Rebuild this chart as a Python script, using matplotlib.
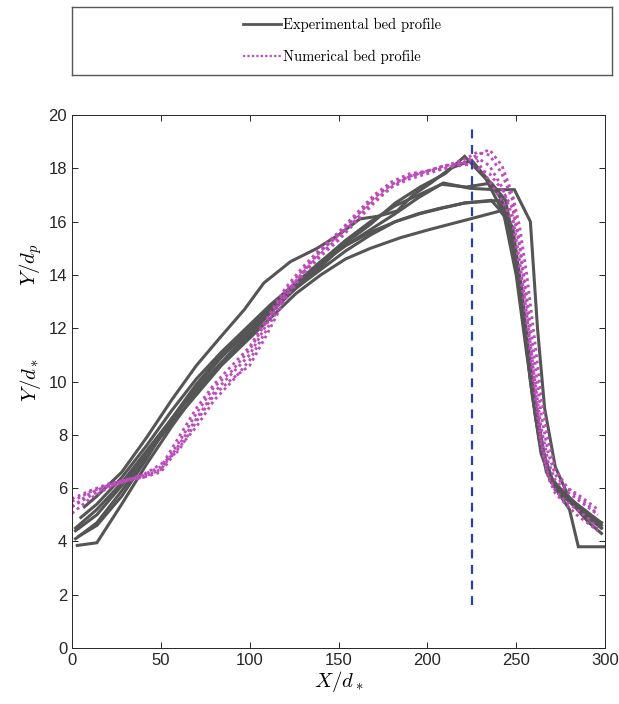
import matplotlib
matplotlib.use("Agg")
import matplotlib.pyplot as plt
from matplotlib.lines import Line2D

plt.rcParams["mathtext.fontset"] = "cm"
plt.rcParams["font.family"] = ["Liberation Sans", "DejaVu Sans"]

# measured bed profiles (X/d*, Y/d*)
exp_x1 = [2, 14, 28, 42, 56, 70, 84, 98, 112, 126, 140, 154, 168, 182, 196, 210, 221, 233, 243, 250, 256, 262, 268, 276, 284, 292, 298]
exp_y1 = [4.5, 5.2, 6.2, 7.4, 8.6, 9.7, 10.7, 11.6, 12.6, 13.5, 14.3, 15.2, 15.9, 16.7, 17.3, 17.8, 18.45, 17.6, 16.3, 14.0, 11.0, 8.3, 6.5, 5.9, 5.4, 4.8, 4.5]
exp_x2 = [7, 14, 28, 42, 56, 70, 84, 97, 108, 123, 138, 150, 162, 172, 183, 192, 202, 213, 225, 235, 242, 248, 253, 258, 263, 269, 276, 284, 292, 298]
exp_y2 = [5.3, 5.7, 6.6, 7.9, 9.3, 10.6, 11.7, 12.7, 13.7, 14.5, 15.0, 15.5, 16.1, 16.2, 16.4, 17.0, 17.45, 18.0, 18.3, 17.5, 16.8, 15.5, 13.0, 10.0, 7.8, 6.3, 5.7, 5.3, 4.9, 4.5]
exp_x3 = [3, 14, 28, 42, 56, 70, 84, 98, 112, 126, 140, 154, 168, 182, 195, 209, 224, 238, 249, 258, 262, 266, 272, 280, 288, 298]
exp_y3 = [3.85, 3.95, 5.4, 6.9, 8.3, 9.6, 10.7, 11.7, 12.7, 13.6, 14.4, 15.1, 15.7, 16.3, 16.9, 17.45, 17.25, 17.2, 17.2, 16.0, 12.0, 9.0, 6.8, 5.6, 5.0, 4.7]
exp_x4 = [2, 14, 28, 42, 56, 70, 84, 98, 112, 126, 140, 154, 168, 182, 196, 208, 221, 236, 244, 250, 255, 260, 266, 272, 280, 285, 300]
exp_y4 = [4.1, 4.7, 5.9, 7.2, 8.5, 9.8, 10.9, 11.8, 12.7, 13.5, 14.2, 14.9, 15.5, 16.0, 16.3, 16.5, 16.7, 16.8, 16.2, 14.5, 12.0, 9.5, 7.2, 6.0, 5.2, 3.8, 3.8]
exp_x5 = [2, 14, 28, 42, 56, 70, 84, 98, 112, 126, 140, 154, 168, 185, 201, 224, 241, 248, 253, 258, 263, 268, 275, 283, 291, 298]
exp_y5 = [4.4, 5.0, 6.1, 7.3, 8.4, 9.5, 10.6, 11.5, 12.4, 13.3, 14.0, 14.6, 15.0, 15.4, 15.7, 16.1, 16.4, 15.8, 13.5, 10.5, 8.0, 6.6, 5.8, 5.3, 4.7, 4.3]
exp_x6 = [5, 14, 28, 42, 56, 70, 84, 98, 112, 126, 140, 154, 168, 182, 195, 207, 221, 241, 248, 254, 259, 264, 270, 278, 286, 294, 298]
exp_y6 = [4.9, 5.4, 6.4, 7.6, 8.9, 10.1, 11.1, 12.0, 12.9, 13.7, 14.5, 15.1, 15.6, 16.0, 16.3, 16.5, 16.7, 16.8, 15.5, 12.5, 9.5, 7.3, 6.2, 5.7, 5.3, 4.9, 4.7]
exp_x7 = [4, 14, 28, 42, 56, 70, 84, 98, 112, 126, 140, 154, 168, 182, 195, 208, 222, 236, 244, 250, 256, 261, 267, 274, 282, 290, 298]
exp_y7 = [4.2, 4.6, 5.7, 7.1, 8.6, 9.9, 11.0, 11.9, 12.8, 13.6, 14.5, 15.3, 16.0, 16.6, 17.0, 17.4, 17.3, 17.45, 16.8, 14.8, 11.5, 8.6, 6.6, 5.9, 5.5, 5.1, 4.6]

# simulated bed profiles
num_x = [0, 10, 20, 30, 40, 50, 60, 70, 80, 90, 100, 110, 120, 130, 140, 150, 160, 170, 180, 190,
         200, 210, 220, 228, 235, 242, 248, 252, 256, 260, 264, 268, 272, 278, 284, 290, 296]
num_y1 = [5.6, 5.9, 6.15, 6.3, 6.45, 6.7, 7.6, 8.6, 9.6, 10.3, 11.0, 12.2, 13.3, 14.1, 14.8, 15.4, 16.1, 16.8, 17.3, 17.6,
          17.8, 18.0, 18.2, 18.4, 18.1, 17.3, 16.2, 14.5, 12.5, 10.3, 8.3, 7.0, 6.3, 5.9, 5.6, 5.3, 5.0]
num_y2 = [5.3, 5.8, 6.1, 6.3, 6.5, 6.8, 7.9, 9.0, 9.9, 10.6, 11.3, 12.4, 13.5, 14.3, 15.0, 15.6, 16.3, 17.0, 17.5, 17.8,
          17.9, 18.1, 18.3, 18.6, 18.5, 17.8, 16.8, 15.2, 13.2, 11.0, 8.8, 7.3, 6.5, 6.0, 5.8, 5.5, 5.2]
num_y3 = [5.05, 5.6, 6.0, 6.25, 6.5, 6.9, 7.4, 8.5, 9.5, 10.1, 10.6, 11.8, 13.1, 14.0, 14.7, 15.3, 16.0, 16.7, 17.3, 17.7,
          17.9, 18.0, 18.2, 18.5, 18.7, 18.1, 17.0, 15.8, 14.0, 11.8, 9.5, 7.8, 6.7, 6.1, 5.7, 5.4, 5.0]
num_y4 = [5.5, 5.85, 6.1, 6.3, 6.4, 6.6, 7.5, 8.3, 9.3, 10.0, 10.8, 12.0, 13.2, 14.1, 14.9, 15.5, 16.2, 16.9, 17.4, 17.7,
          17.9, 18.1, 18.2, 18.0, 17.8, 17.2, 16.5, 15.0, 12.8, 10.2, 7.8, 6.5, 5.9, 5.5, 5.2, 4.9, 4.5]
num_y5 = [5.3, 5.7, 6.05, 6.25, 6.4, 6.7, 7.7, 8.8, 9.8, 10.4, 11.2, 12.3, 13.4, 14.2, 14.9, 15.5, 16.2, 16.9, 17.4, 17.7,
          17.9, 18.1, 18.1, 18.3, 17.5, 16.8, 16.0, 14.2, 12.2, 9.8, 7.6, 6.4, 5.8, 5.4, 5.0, 4.7, 4.4]

# crest reference line
crest_x = 225
crest_y = [1.6, 19.6]

exp_color = "#555555"
num_color = "#BC4CBC"

fig = plt.figure(figsize=(6.19, 7.04), dpi=100)
ax = fig.add_axes([0.1163, 0.0795, 0.8611, 0.7571])

exp_curves = [(exp_x1, exp_y1), (exp_x2, exp_y2), (exp_x3, exp_y3), (exp_x4, exp_y4),
              (exp_x5, exp_y5), (exp_x6, exp_y6), (exp_x7, exp_y7)]
for xs, ys in exp_curves:
    ax.plot(xs, ys, color=exp_color, lw=2.2, solid_joinstyle="miter")

for ys in [num_y1, num_y2, num_y3, num_y4, num_y5]:
    ax.plot(num_x, ys, color=num_color, lw=2.0, linestyle=(0, (1, 1.3)))

ax.plot([crest_x, crest_x], crest_y, color="#2B3FA8", lw=1.6, linestyle=(0, (4, 3)))

ax.set_xlim(0, 300)
ax.set_ylim(0, 20)
ax.set_xticks(range(0, 301, 50))
ax.set_yticks(range(0, 21, 2))
ax.tick_params(direction="in", top=True, right=True, length=4, width=0.7,
               labelsize=12, colors="#262626")
for s in ax.spines.values():
    s.set_color("#262626")
    s.set_linewidth(0.7)

ax.set_xlabel(r"$X/d_*$", fontsize=15, labelpad=1)
fig.text(0.05, 0.624, r"$Y/d_p$", rotation=90, fontsize=15, ha="center", va="center")
fig.text(0.05, 0.46, r"$Y/d_*$", rotation=90, fontsize=15, ha="center", va="center")

# legend in a separate box above the axes
lax = fig.add_axes([0.1163, 0.8935, 0.8724, 0.0966])
lax.set_xticks([])
lax.set_yticks([])
for s in lax.spines.values():
    s.set_color("#555555")
    s.set_linewidth(1.0)
handles = [Line2D([], [], color=exp_color, lw=2.0),
           Line2D([], [], color=num_color, lw=1.6, linestyle=(0, (1, 1)))]
lax.legend(handles, ["Experimental bed profile", "Numerical bed profile"],
           loc="center", frameon=False, handlelength=2.6, handletextpad=0.1,
           labelspacing=1.25, prop={"family": "cmr10", "size": 10.5})

fig.savefig("out.png", dpi=100)
